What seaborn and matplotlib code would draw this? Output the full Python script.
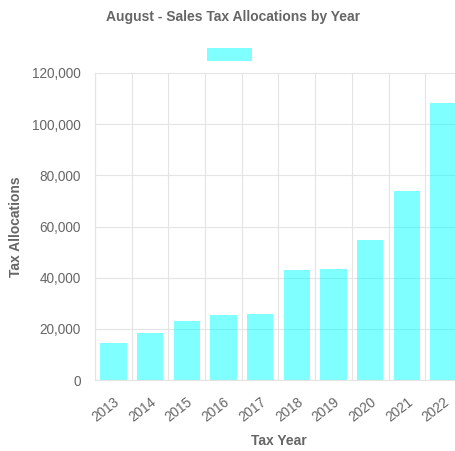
import matplotlib
matplotlib.use("Agg")
import matplotlib.pyplot as plt
import seaborn as sns
import pandas as pd
from matplotlib.ticker import FuncFormatter, FixedLocator

# Sales tax allocations for August, by tax year
years = ["2013", "2014", "2015", "2016", "2017", "2018", "2019", "2020", "2021", "2022"]
allocations = [14600, 18200, 23200, 25500, 25800, 42900, 43400, 54700, 73700, 108200]

title = "August - Sales Tax Allocations by Year"
x_label = "Tax Year"
y_label = "Tax Allocations"
y_ticks = [0, 20000, 40000, 60000, 80000, 100000, 120000]

df = pd.DataFrame({"year": years, "allocation": allocations})

sns.set_theme(style="white")
plt.rcParams["font.family"] = ["Liberation Sans", "DejaVu Sans"]

text_grey = "#666666"
grid_grey = "#e4e4e4"
bar_fill = (0.0, 1.0, 1.0, 0.5)
tick_size = 9.8
label_size = 10

W, H = 456, 451
fig = plt.figure(figsize=(W / 100, H / 100), dpi=100)
# plot area continues slightly past the right edge of the canvas
ax = fig.add_axes([95 / W, (H - 380) / H, 367 / W, 307 / H])

sns.barplot(data=df, x="year", y="allocation", color="cyan", width=0.72,
            ax=ax, saturation=1, label="")
for p in ax.patches:
    p.set_facecolor(bar_fill)
    p.set_edgecolor("none")

ax.set_xlim(-0.5, len(years) - 0.5)
ax.set_ylim(0, 120000)
ax.yaxis.set_major_locator(FixedLocator(y_ticks))
ax.yaxis.set_major_formatter(FuncFormatter(lambda v, _: f"{int(v):,}"))

# category boundaries carry the vertical grid lines and tick marks
ax.xaxis.set_minor_locator(FixedLocator([i - 0.5 for i in range(len(years) + 1)]))
ax.tick_params(axis="x", which="major", length=0, pad=11, labelsize=tick_size,
               labelcolor=text_grey)
ax.tick_params(axis="x", which="minor", length=6, width=0.8, color=grid_grey,
               direction="out")
ax.tick_params(axis="y", which="major", length=6, width=0.8, color=grid_grey,
               direction="out", pad=4, labelsize=tick_size, labelcolor=text_grey)
for lbl in ax.get_xticklabels():
    lbl.set_rotation(38)
    lbl.set_ha("right")
    lbl.set_rotation_mode("anchor")

ax.grid(True, axis="y", which="major", color=grid_grey, linewidth=0.8)
ax.grid(True, axis="x", which="minor", color=grid_grey, linewidth=0.8)
ax.grid(False, axis="x", which="major")
ax.set_axisbelow(True)
for side in ["top", "right"]:
    ax.spines[side].set_visible(False)
for side in ["left", "bottom"]:
    ax.spines[side].set_color(grid_grey)
    ax.spines[side].set_linewidth(0.8)

ax.set_xlabel(x_label, fontsize=label_size, fontweight="bold", color=text_grey)
ax.set_ylabel(y_label, fontsize=label_size, fontweight="bold", color=text_grey)
ax.xaxis.set_label_coords((279 - 95) / 367, -(434 - 380) / 307)
ax.yaxis.set_label_coords(-(95 - 23) / 367, (380 - 227) / 307)

fig.text(233 / W, 1 - 17 / H, title, ha="center", va="center",
         fontsize=label_size, fontweight="bold", color=text_grey)

# dataset legend swatch (the dataset has no label text)
fig.patches.append(plt.Rectangle((207 / W, 1 - 61 / H), 45 / W, 13 / H,
                                 transform=fig.transFigure, facecolor=bar_fill,
                                 edgecolor="none"))

fig.savefig("out.png", dpi=100)
